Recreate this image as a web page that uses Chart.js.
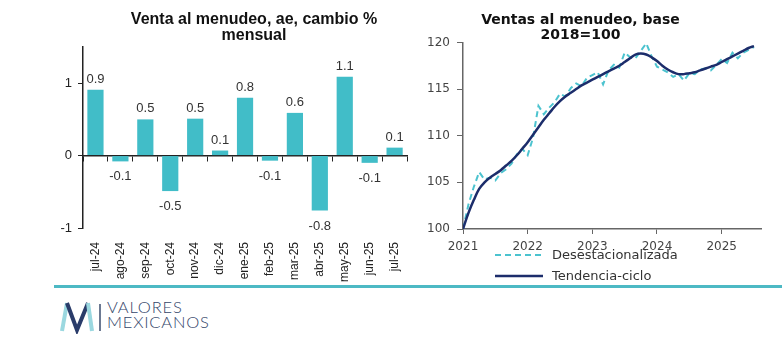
<!DOCTYPE html>
<html>
<head>
<meta charset="utf-8">
<script src="https://cdn.jsdelivr.net/npm/chart.js@4"></script>
<style>
  body { margin: 0; width: 782px; height: 350px; background: #fff; position: relative; overflow: hidden; }
  canvas { position: absolute; top: 0; }
  #left { left: 40px; }
  #right { left: 400px; }
  #titleL { position: absolute; left: 104px; width: 300px; top: 11px; text-align: center;
            font: bold 16px/16px "Liberation Sans", Arial, sans-serif; color: #111; }
  .leg { position: absolute; left: 495px; font: 13px "DejaVu Sans", sans-serif; color: #333; display: flex; align-items: center; }
  .leg svg { margin-right: 9px; }
  #rule { position: absolute; left: 54px; top: 285px; width: 728px; height: 3px; background: #4db9c4; }
  #logo { position: absolute; left: 58px; top: 300px; }
  #brand { position: absolute; left: 107px; top: 300px; font: 300 16.5px Lato, sans-serif; color: #34466a; line-height: 15px; letter-spacing: 0.8px; }
</style>
</head>
<body>
<canvas id="left" width="375" height="285"></canvas>
<canvas id="right" width="382" height="262"></canvas>
<div id="titleL">Venta al menudeo, ae, cambio %<br>mensual</div>

<div class="leg" style="top:247px">
  <svg width="48" height="4"><line x1="0" y1="2" x2="48" y2="2" stroke="#4cc3cf" stroke-width="2" stroke-dasharray="6,4"/></svg>Desestacionalizada
</div>
<div class="leg" style="top:268px">
  <svg width="48" height="4"><line x1="0" y1="2" x2="48" y2="2" stroke="#1c2d6b" stroke-width="2.5"/></svg>Tendencia-ciclo
</div>

<div id="rule"></div>
<svg id="logo" width="46" height="34">
  <line x1="4" y1="31" x2="9" y2="3" stroke="#9bd8e0" stroke-width="4"/>
  <polyline points="9,3 19,30 30,3" fill="none" stroke="#2a3c6a" stroke-width="4"/>
  <line x1="30" y1="3" x2="34" y2="31" stroke="#9bd8e0" stroke-width="4"/>
  <line x1="42" y1="4" x2="42" y2="31" stroke="#3b4d6e" stroke-width="1.5"/>
</svg>
<div id="brand">VALORES<br>MEXICANOS</div>

<script>
// Venta al menudeo, cambio % mensual (ae)
const months = ['jul-24', 'ago-24', 'sep-24', 'oct-24', 'nov-24', 'dic-24', 'ene-25',
                'feb-25', 'mar-25', 'abr-25', 'may-25', 'jun-25', 'jul-25'];
const monthlyChange = [0.91, -0.08, 0.50, -0.49, 0.51, 0.07, 0.80, -0.07, 0.59, -0.76, 1.09, -0.10, 0.11];

// Ventas al menudeo, indice 2018=100, mensual desde ene-2021
const desest = [100.0, 102.6, 104.5, 106.1, 105.3, 105.5, 105.2, 106.0, 106.4, 107.0, 108.0, 108.6,
                107.9, 109.8, 113.2, 112.3, 113.0, 113.6, 114.5, 114.2, 115.1, 115.6, 115.3, 116.2,
                116.5, 116.8, 115.5, 117.0, 117.6, 117.3, 118.9, 118.4, 118.3, 119.1, 119.9, 118.5,
                117.4, 117.1, 116.8, 116.3, 116.6, 115.9, 116.7, 116.6, 117.1, 117.2, 117.0, 117.6,
                118.2, 117.8, 118.9, 118.3, 118.9, 119.2, 119.5];
const trend = [100.0, 101.7, 103.1, 104.3, 105.0, 105.5, 105.9, 106.3, 106.8, 107.3, 107.9, 108.6,
               109.3, 110.1, 110.9, 111.7, 112.4, 113.1, 113.7, 114.2, 114.6, 115.0, 115.4, 115.7,
               116.0, 116.3, 116.6, 116.9, 117.2, 117.5, 117.9, 118.3, 118.7, 118.8, 118.7, 118.4,
               118.0, 117.5, 117.1, 116.8, 116.6, 116.6, 116.7, 116.8, 117.0, 117.2, 117.4, 117.6,
               117.9, 118.2, 118.5, 118.8, 119.1, 119.4, 119.6];
const years = [2021, 2022, 2023, 2024, 2025];

// etiquetas de valor sobre / bajo las barras
const barLabels = {
  id: 'barLabels',
  afterDatasetsDraw(chart) {
    const ctx = chart.ctx;
    ctx.save();
    ctx.font = '13px "Liberation Sans", Arial, sans-serif';
    ctx.fillStyle = '#333';
    ctx.textAlign = 'center';
    ctx.textBaseline = 'alphabetic';
    chart.getDatasetMeta(0).data.forEach((bar, i) => {
      const v = monthlyChange[i];
      const y = v >= 0 ? bar.y - 7 : bar.y + 19;
      ctx.fillText(v.toFixed(1), bar.x, y);
    });
    ctx.restore();
  }
};

new Chart(document.getElementById('left'), {
  type: 'bar',
  data: {
    labels: months,
    datasets: [{
      data: monthlyChange,
      backgroundColor: '#41bdc8',
      categoryPercentage: 1,
      barPercentage: 0.65
    }]
  },
  options: {
    responsive: false,
    animation: false,
    layout: { padding: { top: 47, right: 0 } },
    plugins: {
      legend: { display: false },
      tooltip: { enabled: false }
    },
    scales: {
      x: {
        grid: { display: false },
        border: { display: false },
        ticks: { maxRotation: 90, minRotation: 90, padding: 6, color: '#222',
                 font: { family: '"Liberation Sans", Arial, sans-serif', size: 12 } },
        afterFit: s => { s.height = 57; }
      },
      x2: {
        type: 'category',
        labels: months,
        position: { y: 0 },
        offset: true,
        grid: { offset: true, drawOnChartArea: false, tickLength: 5, color: '#222' },
        border: { color: '#222', width: 1.5 },
        ticks: { display: false }
      },
      y: {
        min: -1,
        max: 1.5,
        ticks: { stepSize: 1, padding: 6, color: '#222',
                 font: { family: '"Liberation Sans", Arial, sans-serif', size: 13 } },
        grid: { drawOnChartArea: false, tickLength: 5, color: '#222' },
        border: { color: '#222', width: 1.5 },
        afterBuildTicks: s => { s.ticks = s.ticks.filter(t => Number.isInteger(t.value)); },
        afterFit: s => { s.width = 43; }
      }
    }
  },
  plugins: [barLabels]
});

new Chart(document.getElementById('right'), {
  type: 'line',
  data: {
    datasets: [{
      label: 'Tendencia-ciclo',
      data: trend.map((v, i) => ({ x: i, y: v })),
      borderColor: '#1c2d6b',
      borderWidth: 2.5,
      pointRadius: 0,
      tension: 0.4,
      order: 0
    }, {
      label: 'Desestacionalizada',
      data: desest.map((v, i) => ({ x: i, y: v })),
      borderColor: '#4cc3cf',
      borderWidth: 2,
      borderDash: [6, 4],
      pointRadius: 0,
      tension: 0,
      order: 1
    }]
  },
  options: {
    responsive: false,
    animation: false,
    layout: { padding: { right: 21 } },
    plugins: {
      legend: { display: false },
      tooltip: { enabled: false },
      title: {
        display: true,
        text: ['Ventas al menudeo, base', '2018=100'],
        color: '#111',
        font: { family: '"DejaVu Sans", sans-serif', size: 14, weight: 'bold', lineHeight: 1.05 },
        padding: { top: 13, bottom: 0 }
      }
    },
    scales: {
      x: {
        type: 'linear',
        min: 0,
        max: 55.3,
        ticks: { color: '#444', padding: 6, callback: v => String(2021 + v / 12),
                 font: { family: '"DejaVu Sans", sans-serif', size: 12 } },
        grid: { drawOnChartArea: false, tickLength: 5, color: '#666' },
        border: { color: '#666', width: 1.5 },
        afterBuildTicks: s => { s.ticks = years.map(y => ({ value: (y - 2021) * 12 })); },
        afterFit: s => { s.height = 33; }
      },
      y: {
        min: 100,
        max: 120,
        ticks: { stepSize: 5, padding: 7, color: '#444',
                 font: { family: '"DejaVu Sans", sans-serif', size: 12 } },
        grid: { drawOnChartArea: false, tickLength: 6, color: '#666' },
        border: { color: '#666', width: 1.5 },
        afterFit: s => { s.width = 63; }
      }
    }
  }
});
</script>
</body>
</html>
